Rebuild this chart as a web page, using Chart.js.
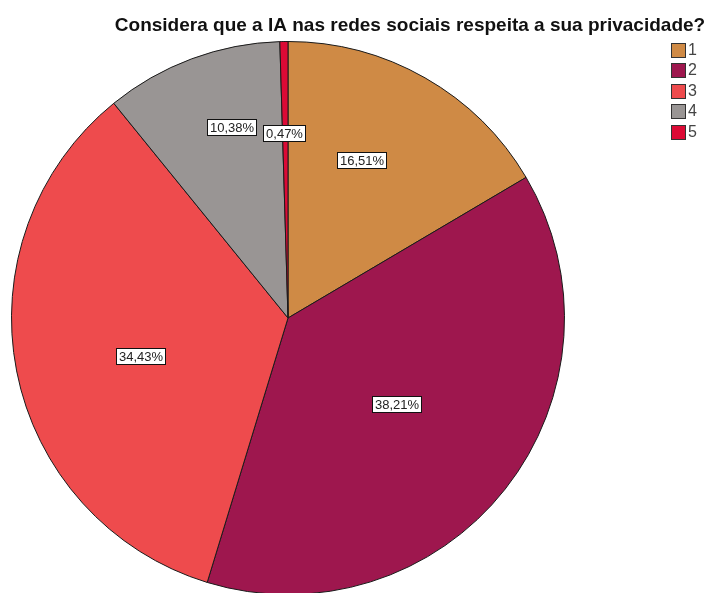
<!DOCTYPE html>
<html>
<head>
<meta charset="utf-8">
<script src="https://cdn.jsdelivr.net/npm/chart.js@4/dist/chart.umd.min.js"></script>
<style>
    html, body { margin: 0; padding: 0; background: #fff; overflow: hidden; }
    #pie { display: block; }
</style>
</head>
<body>
<canvas id="pie" width="710" height="600"></canvas>
<script>
const title = "Considera que a IA nas redes sociais respeita a sua privacidade?";
const categories = ["1", "2", "3", "4", "5"];
const percents = [16.51, 38.21, 34.43, 10.38, 0.47];
const colors = ["#CF8A45", "#9E174E", "#EE4B4D", "#999594", "#DC0A35"];

// where each percentage box sits: fraction of radius, angle shift in degrees
const labelSpots = [[0.63, -4.8], [0.50, 0.4], [0.55, -3.3], [0.72, 3.8], [0.67, -0.4]];

function fmt(v) {
    return v.toFixed(2).replace(".", ",") + "%";
}

const overlay = {
    id: "overlay",
    afterDraw(c) {
        const ctx = c.ctx;
        ctx.save();

        // title
        ctx.fillStyle = "#111";
        ctx.font = "bold 19px 'Liberation Sans', Arial, sans-serif";
        ctx.textAlign = "center";
        ctx.textBaseline = "alphabetic";
        ctx.fillText(title, 410, 31);

        // value boxes
        const arcs = c.getDatasetMeta(0).data;
        ctx.font = "13px 'Liberation Sans', Arial, sans-serif";
        ctx.textBaseline = "middle";
        arcs.forEach((arc, i) => {
            const p = arc.getProps(["x", "y", "startAngle", "endAngle", "outerRadius"], true);
            const [frac, shift] = labelSpots[i];
            const a = (p.startAngle + p.endAngle) / 2 + shift * Math.PI / 180;
            const r = p.outerRadius * frac;
            const cx = p.x + Math.cos(a) * r;
            const cy = p.y + Math.sin(a) * r;
            const txt = fmt(percents[i]);
            const w = Math.round(ctx.measureText(txt).width) + 5;
            const h = 16;
            const bx = Math.round(cx - w / 2) + 0.5;
            const by = Math.round(cy - h / 2) + 0.5;
            ctx.fillStyle = "#fff";
            ctx.fillRect(bx, by, w, h);
            ctx.strokeStyle = "#111";
            ctx.lineWidth = 1;
            ctx.strokeRect(bx, by, w, h);
            ctx.fillStyle = "#222";
            ctx.textAlign = "center";
            ctx.fillText(txt, bx + w / 2, by + h / 2 + 0.5);
        });

        // legend
        ctx.font = "16px 'Liberation Sans', Arial, sans-serif";
        ctx.textAlign = "left";
        categories.forEach((cat, i) => {
            const top = Math.round(43 + i * 20.4);
            ctx.fillStyle = colors[i];
            ctx.fillRect(671.5, top + 0.5, 14, 14);
            ctx.strokeStyle = "#333";
            ctx.strokeRect(671.5, top + 0.5, 14, 14);
            ctx.fillStyle = "#444";
            ctx.fillText(cat, 688, top + 8);
        });

        ctx.restore();
    }
};

new Chart(document.getElementById("pie"), {
    type: "pie",
    data: {
        labels: categories,
        datasets: [{
            data: percents,
            backgroundColor: colors,
            borderColor: "#1a1a1a",
            borderWidth: 1
        }]
    },
    options: {
        responsive: false,
        animation: false,
        layout: {
            padding: { left: 11, top: 41, right: 145, bottom: 5 }
        },
        plugins: {
            legend: { display: false },
            tooltip: { enabled: false }
        }
    },
    plugins: [overlay]
});
</script>
</body>
</html>
